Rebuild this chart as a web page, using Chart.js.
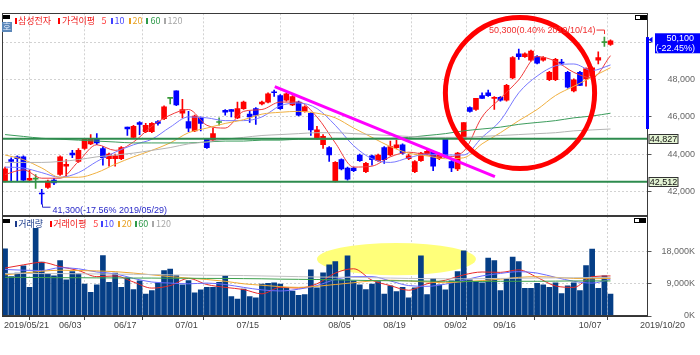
<!DOCTYPE html>
<html lang="ko">
<head>
<meta charset="utf-8">
<title>삼성전자 일봉</title>
<script src="https://cdn.jsdelivr.net/npm/chart.js@4.4.0/dist/chart.umd.min.js"></script>
<style>
  html, body { margin: 0; padding: 0; background: #fff; }
  #wrap { position: relative; width: 700px; height: 355px; overflow: hidden; font-family: "Noto Sans CJK KR", sans-serif; }
  canvas { position: absolute; left: 0; }
  #priceCanvas { top: 0; }
  #volCanvas { top: 215px; }
  .t { position: absolute; font-size: 9px; line-height: 9px; white-space: nowrap; }
  .b { position: absolute; width: 2px; height: 6px; }
  .box { position: absolute; }
</style>
</head>
<body>
<div id="wrap">
  <canvas id="priceCanvas" width="700" height="216"></canvas>
  <canvas id="volCanvas" width="700" height="140"></canvas>

  <!-- price panel legend -->
  <div class="box" style="left:3px;top:15px;width:7px;height:4px;background:#000"></div>
  <div class="t" style="left:2px;top:22px;width:10px;height:10px;line-height:10px;background:#5b87b9;color:#e8f0ff;text-align:center">호</div>
  <span class="b" style="left:14.5px;top:17.5px;background:#ff0000"></span>
  <span class="t" style="left:18px;top:15.5px;color:#f02020">삼성전자</span>
  <span class="b" style="left:57.5px;top:17.5px;background:#ff0000"></span>
  <span class="t" style="left:62px;top:15.5px;color:#f02020">가격이평</span>
  <span class="t" style="left:101.5px;top:15.5px;color:#ff4040">5</span>
  <span class="b" style="left:111px;top:17.5px;background:#4040ff"></span>
  <span class="t" style="left:114.5px;top:15.5px;color:#4848ff">10</span>
  <span class="b" style="left:128.5px;top:17.5px;background:#e8a020"></span>
  <span class="t" style="left:132.5px;top:15.5px;color:#e8a020">20</span>
  <span class="b" style="left:146px;top:17.5px;background:#2e9a4a"></span>
  <span class="t" style="left:150.5px;top:15.5px;color:#2e9a4a">60</span>
  <span class="b" style="left:163.5px;top:17.5px;background:#a8a8a8"></span>
  <span class="t" style="left:167.5px;top:15.5px;color:#a8a8a8">120</span>
  <div class="box" style="left:635px;top:15px;width:4px;height:3px;border:1px solid #000;background:#fff"></div>
  <div class="box" style="left:641px;top:15px;width:6px;height:5px;background:#000"></div>

  <!-- volume panel legend -->
  <div class="box" style="left:3px;top:219px;width:7px;height:3.5px;background:#000"></div>
  <span class="b" style="left:14.5px;top:220.5px;background:#1a3a8a"></span>
  <span class="t" style="left:18.3px;top:218.5px;color:#1a3a8a">거래량</span>
  <span class="b" style="left:49.5px;top:220.5px;background:#ff0000"></span>
  <span class="t" style="left:53.3px;top:218.5px;color:#f02020">거래이평</span>
  <span class="t" style="left:93.3px;top:218.5px;color:#ff4040">5</span>
  <span class="b" style="left:101px;top:220.5px;background:#4040ff"></span>
  <span class="t" style="left:104px;top:218.5px;color:#4848ff">10</span>
  <span class="b" style="left:118.3px;top:220.5px;background:#e8a020"></span>
  <span class="t" style="left:121.7px;top:218.5px;color:#e8a020">20</span>
  <span class="b" style="left:135px;top:220.5px;background:#2e9a4a"></span>
  <span class="t" style="left:138.3px;top:218.5px;color:#2e9a4a">60</span>
  <span class="b" style="left:152.3px;top:220.5px;background:#a8a8a8"></span>
  <span class="t" style="left:156px;top:218.5px;color:#a8a8a8">120</span>
  <div class="box" style="left:634px;top:218px;width:4px;height:3px;border:1px solid #000;background:#fff"></div>
  <div class="box" style="left:640px;top:218px;width:6px;height:5px;background:#000"></div>
</div>

<script>
// 삼성전자 daily candles, 2019/05/21 .. 2019/10/14 (index 0..99)
const opens = [
  42550, 43700, 43850, 43850, 42600, 42650, 41900, 42200, 42600, 42900,
  43350, 44050, 43600, 44300, 44550, 44850, 44300, 43750, 43750, 43750,
  45450, 44900, 45700, 45200, 45200, 45750, 45900, 47000, 47400, 46200,
  45750, 45250, 45950, 44800, 44750, 45700, 46350, 46400, 45950, 46450,
  46150, 46450, 46700, 46800, 47350, 47150, 46900, 46650, 46800, 46300,
  46200, 44850, 44500, 44350, 42550, 43700, 43250, 43250, 43950, 43050,
  43900, 43650, 44350, 43950, 44350, 44500, 43750, 43050, 43650, 44000,
  44150, 43750, 44850, 43600, 43200, 44800, 46500, 46400, 47150, 47300,
  47000, 47050, 46900, 48100, 49400, 49250, 49050, 49250, 49050, 48000,
  48000, 48950, 48400, 47400, 48400, 48050, 48200, 49050, 50000, 49900
];
const highs = [
  43300, 43800, 43900, 43900, 43150, 42900, 42100, 42600, 42700, 43900,
  43700, 44200, 44300, 44850, 45050, 45100, 44400, 44050, 44000, 44400,
  45450, 45550, 45750, 45650, 45700, 45800, 46600, 47000, 47400, 46950,
  46300, 46100, 46000, 44850, 45400, 45950, 46400, 46400, 46800, 46850,
  46300, 46500, 46850, 47300, 47450, 47200, 47300, 47150, 46850, 46600,
  46250, 45500, 45050, 44400, 43600, 43750, 43300, 43300, 44000, 43550,
  43950, 44000, 44400, 44700, 44750, 44550, 44000, 43650, 44100, 44200,
  44200, 44050, 44850, 43650, 44100, 45700, 46550, 47000, 47300, 47450,
  47100, 47100, 47750, 49250, 49650, 49450, 49600, 49300, 49250, 48450,
  49150, 49100, 48450, 48050, 48450, 48650, 48700, 49500, 50300, 50150
];
const lows = [
  42500, 42500, 42550, 42550, 42550, 42150, 41300, 42150, 42350, 42850,
  42800, 43800, 43550, 44250, 44500, 44500, 43400, 43350, 43350, 43700,
  45000, 44850, 45050, 45150, 45150, 45550, 45850, 46700, 46600, 45950,
  45200, 45200, 45250, 44300, 44700, 45550, 46100, 46000, 45900, 46400,
  45700, 45600, 46650, 46750, 47100, 46400, 46850, 46600, 46050, 46250,
  45000, 44800, 44300, 43600, 42500, 43150, 42600, 43050, 43600, 43000,
  43400, 43600, 43500, 43900, 44300, 44000, 43700, 43000, 43600, 43950,
  43100, 43700, 43800, 43050, 43100, 44750, 46250, 46350, 47000, 47100,
  46400, 46850, 46850, 48050, 49100, 49200, 49000, 48850, 49000, 47950,
  47950, 48800, 47550, 47350, 47700, 47650, 48150, 48850, 49800, 49850
];
const closes = [
  43200, 43600, 43750, 42600, 42700, 42650, 41850, 42550, 42450, 43850,
  43450, 43950, 44200, 44800, 44850, 44600, 43800, 44000, 43900, 44350,
  45350, 45500, 45600, 45550, 45650, 45650, 46550, 47000, 46650, 46400,
  45400, 46050, 45650, 44350, 45100, 45700, 46250, 46300, 46450, 46800,
  46000, 46100, 46800, 47250, 47300, 46450, 47250, 47100, 46100, 46550,
  45300, 45300, 44950, 43950, 43550, 43200, 42650, 43100, 43650, 43500,
  43700, 43950, 43700, 44400, 44500, 44050, 43900, 43600, 44050, 44150,
  43350, 44000, 43850, 43250, 44050, 45700, 46300, 47000, 47000, 47150,
  47050, 46900, 47700, 49200, 49250, 49400, 49550, 48900, 49200, 48400,
  49100, 48900, 47600, 48000, 47700, 48600, 48650, 49200, 50000, 50100
];
// 거래량, thousands of shares
const volumes = [
  18800, 11000, 12000, 14000, 8000, 24500, 15100, 11800, 11200, 15500,
  10100, 12400, 11800, 8900, 6600, 8700, 16900, 9400, 12000, 8000,
  10700, 7400, 9800, 6100, 7100, 9300, 12700, 13100, 11300, 8700,
  9900, 6500, 7300, 8000, 8000, 9400, 11200, 5400, 4700, 7500,
  5400, 5100, 8900, 9100, 9300, 8900, 7700, 7000, 5800, 6000,
  12900, 7900, 12100, 14300, 15200, 10100, 16800, 9800, 8700, 7400,
  8900, 9600, 6100, 8400, 6800, 8000, 5100, 7900, 16800, 6000,
  10500, 8700, 7300, 9800, 12400, 18200, 10100, 9600, 9300, 16200,
  15500, 7100, 10400, 16500, 15200, 7700, 7700, 9100, 8700, 8000,
  9300, 6300, 8400, 9300, 7100, 14100, 18700, 7700, 11200, 6100
];

// moving average lines, read every third session
const maIndex = [0, 3, 6, 9, 12, 15, 18, 21, 24, 27, 30, 33, 36, 39, 42, 45, 48,
  51, 54, 57, 60, 63, 66, 69, 72, 75, 78, 81, 84, 87, 90, 93, 96, 99];
const priceMa5 = [42900, 43150, 42700, 42700, 43600, 44500, 44200, 44650, 45500, 46100, 46400, 45550, 45400, 46300, 46400, 46800, 46800,
  46000, 44600, 43300, 43350, 43850, 44100, 43950, 43850, 44150, 46000, 47000, 48000, 49250, 49000, 48400, 48100, 49300];
const priceMa10 = [43300, 43250, 43000, 42750, 43000, 43600, 44100, 44500, 44800, 45450, 46000, 45950, 45800, 45800, 46000, 46600, 46750,
  46450, 45550, 44450, 43750, 43550, 43800, 44000, 43950, 43950, 44900, 45800, 47300, 48200, 48750, 48850, 48500, 48800];
const priceMa20 = [43950, 43700, 43250, 42750, 42750, 43000, 43450, 43850, 44200, 44600, 45150, 45400, 45650, 45850, 46150, 46250, 46300,
  46200, 45950, 45400, 44900, 44400, 44050, 43900, 43750, 43800, 44550, 45150, 45800, 46400, 47150, 47650, 48150, 48650];
const priceMa60 = [45050, 44950, 44850, 44800, 44750, 44700, 44650, 44600, 44600, 44600, 44600, 44650, 44700, 44700, 44750, 44750, 44800,
  44800, 44800, 44800, 44850, 44850, 44900, 45000, 45100, 45250, 45350, 45450, 45600, 45700, 45800, 45950, 46050, 46200];
const priceMa120 = [43550, 43550, 43550, 43600, 43700, 43850, 43950, 44050, 44200, 44350, 44550, 44650, 44800, 44900, 45000, 45050, 45100,
  45150, 45150, 45100, 45050, 45000, 44950, 44900, 44900, 44900, 44950, 45000, 45050, 45100, 45150, 45250, 45300, 45350];
const volMa5 = [13400, 14300, 15000, 13800, 12700, 11000, 11200, 9500, 7800, 8500, 10500, 8800, 8000, 7400, 6200, 8000, 7800,
  9000, 12000, 13200, 10000, 8500, 7200, 9000, 10000, 11500, 12300, 12200, 12900, 10800, 8400, 8000, 11000, 11200];
const volMa10 = [13000, 12800, 12700, 13500, 13200, 12300, 11800, 10500, 9500, 9200, 9000, 9200, 8800, 8000, 7300, 7000, 7500,
  8500, 10200, 11000, 11000, 9800, 8500, 8300, 8900, 10000, 11200, 11900, 12400, 12000, 10800, 9700, 9200, 10300];
const volMa20 = [11500, 12000, 12500, 12800, 12700, 12600, 12400, 12000, 11500, 11000, 10600, 10200, 9700, 9000, 8600, 8200, 8000,
  8300, 8800, 9300, 9800, 10000, 9800, 9500, 9300, 9600, 9900, 10300, 10800, 11000, 10800, 10500, 10400, 10500];
const volMa60 = [10800, 10800, 10750, 10700, 10700, 10650, 10650, 10600, 10600, 10550, 10550, 10500, 10500, 10450, 10400, 10300, 10250,
  10200, 10100, 10000, 9900, 9850, 9800, 9750, 9700, 9650, 9650, 9700, 9700, 9700, 9750, 9800, 9800, 9800];
const volMa120 = [11900, 11900, 11850, 11850, 11800, 11750, 11700, 11650, 11600, 11500, 11450, 11400, 11350, 11300, 11200, 11100, 11000,
  10900, 10850, 10800, 10700, 10600, 10500, 10450, 10400, 10400, 10450, 10500, 10550, 10600, 10650, 10700, 10750, 10800];

// axis ticks
const tickIndex = [0, 9, 18, 28, 38, 53, 62, 72, 80, 94, 104];
const tickLabels = ['2019/05/21', '06/03', '06/17', '07/01', '07/15', '08/05', '08/19', '09/02', '09/16', '10/07', '2019/10/20'];
const priceTicks = [42000, 44000, 46000, 48000, 50000];
const volumeTicks = [0, 9000, 18000];

// drawn-on annotations
const supportLevels = [44827, 42512];
const trendLine = [[44.1, 47630], [80.1, 42780]];
const lastPrice = 50100;
const lastChange = '-22.45%';
const priceRange = [45350, 50300];
const lowMark = { index: 6, price: 41300, text: '41,300(-17.56% 2019/05/29)' };
const highMark = { index: 98, price: 50300, text: '50,300(0.40% 2019/10/14)' };
const focusCircle = { index: 84.2, price: 47290, spanIndex: 12.2, spanPrice: 4070 };
const volumeBlob = { index: 64.0, value: 15900, spanIndex: 13.0, spanValue: 4500 };

const X_MIN = -0.5, X_MAX = 105.05;
const UP = '#ff0000', DOWN = '#0000ff', FLAT = '#3a9a3a';
const AXIS_FONT = { family: '"Liberation Sans", Arial, sans-serif', size: 9 };

const candleColors = opens.map((o, i) => closes[i] > o ? UP : (closes[i] < o ? DOWN : FLAT));

function maLine(values, color, width) {
  return {
    type: 'line',
    data: maIndex.map((ix, k) => ({ x: ix, y: values[k] })),
    borderColor: color,
    borderWidth: width || 1,
    pointRadius: 0,
    cubicInterpolationMode: 'monotone',
    order: 5
  };
}

function xScale(showLabels) {
  return {
    type: 'linear',
    min: X_MIN,
    max: X_MAX,
    offset: false,
    afterBuildTicks: s => { s.ticks = tickIndex.map(v => ({ value: v - 0.5 })); },
    afterFit: s => { s.height = showLabels ? 39 : 0; },
    ticks: {
      display: showLabels,
      autoSkip: false,
      maxRotation: 0,
      align: 'start',
      labelOffset: 2,
      padding: 0,
      color: '#444',
      font: AXIS_FONT,
      callback: (v, i) => tickLabels[i]
    },
    grid: { color: '#d2d2d2', drawTicks: showLabels, tickLength: 4, tickColor: '#444' },
    border: { display: showLabels, color: '#333', dash: [2, 2] }
  };
}

// right-hand value axis; labels sit right-aligned near the canvas edge
function yScale(min, max, ticks, padding, fmt) {
  return {
    position: 'right',
    min: min,
    max: max,
    afterBuildTicks: s => { s.ticks = ticks.map(v => ({ value: v })); },
    afterFit: s => { s.width = 47.5; s.paddingTop = 0; s.paddingBottom = 0; },
    ticks: { color: '#666', font: AXIS_FONT, crossAlign: 'far', padding: padding, callback: fmt },
    grid: { color: '#d2d2d2', tickLength: 4, tickColor: '#555' },
    border: { color: '#333', dash: [2, 2] }
  };
}

function frame(ctx, a) {
  ctx.save();
  ctx.strokeStyle = '#3a3a3a';
  ctx.lineWidth = 1;
  ctx.strokeRect(Math.round(a.left) + 0.5, Math.round(a.top) + 0.5,
    Math.round(a.right - a.left) - 1, Math.round(a.bottom - a.top) - 1);
  ctx.restore();
}

const priceDecor = {
  id: 'priceDecor',
  afterDatasetsDraw(chart) {
    const { ctx, scales: { x, y } } = chart;
    ctx.save();
    // red circle round the rally
    const cx = x.getPixelForValue(focusCircle.index);
    const cy = y.getPixelForValue(focusCircle.price);
    const rx = x.getPixelForValue(focusCircle.index + focusCircle.spanIndex) - cx;
    const ry = cy - y.getPixelForValue(focusCircle.price + focusCircle.spanPrice);
    ctx.strokeStyle = '#ff0000';
    ctx.lineWidth = 5;
    ctx.beginPath();
    ctx.ellipse(cx, cy, rx, ry, 0, 0, Math.PI * 2);
    ctx.stroke();

    ctx.lineWidth = 1;
    ctx.font = '9px "Liberation Sans", Arial, sans-serif';
    ctx.textBaseline = 'middle';
    // lowest point marker
    let px = Math.round(x.getPixelForValue(lowMark.index)) + 0.5;
    let py = y.getPixelForValue(lowMark.price);
    ctx.strokeStyle = '#2828c8';
    ctx.beginPath();
    ctx.moveTo(px, py);
    ctx.lineTo(px, py + 3);
    ctx.lineTo(px + 8, py + 3);
    ctx.stroke();
    ctx.fillStyle = '#2828c8';
    ctx.textAlign = 'left';
    ctx.fillText(lowMark.text, px + 10, py + 6);
    // highest point marker
    px = Math.round(x.getPixelForValue(highMark.index)) + 0.5;
    py = y.getPixelForValue(highMark.price);
    ctx.strokeStyle = '#f03030';
    ctx.beginPath();
    ctx.moveTo(px, py - 3);
    ctx.lineTo(px, py - 7);
    ctx.lineTo(px - 8, py - 7);
    ctx.stroke();
    ctx.fillStyle = '#f03030';
    ctx.textAlign = 'right';
    ctx.fillText(highMark.text, px - 9, py - 7);
    ctx.restore();
  },
  afterDraw(chart) {
    const { ctx, chartArea: a, scales: { y } } = chart;
    frame(ctx, a);
    ctx.save();
    // price band on the axis
    ctx.strokeStyle = '#0000ff';
    ctx.lineWidth = 3;
    ctx.beginPath();
    ctx.moveTo(a.right, y.getPixelForValue(priceRange[1]));
    ctx.lineTo(a.right, y.getPixelForValue(priceRange[0]));
    ctx.stroke();
    // current price box
    const py = y.getPixelForValue(lastPrice);
    ctx.fillStyle = '#0000ff';
    ctx.beginPath();
    ctx.moveTo(a.right + 1, py - 1);
    ctx.lineTo(a.right + 5, py - 4);
    ctx.lineTo(a.right + 5, py + 2);
    ctx.closePath();
    ctx.fill();
    ctx.fillRect(a.right + 7.5, py - 7.5, 700 - a.right - 7.5, 20);
    ctx.fillStyle = '#ffffff';
    ctx.font = '9px "Liberation Sans", Arial, sans-serif';
    ctx.textAlign = 'right';
    ctx.textBaseline = 'middle';
    ctx.fillText(lastPrice.toLocaleString('en-US'), 694, py - 2);
    ctx.fillText('(' + lastChange + ')', 695, py + 8);
    // support level boxes
    supportLevels.forEach(level => {
      const ly = Math.round(y.getPixelForValue(level));
      ctx.fillStyle = '#e4f4d4';
      ctx.fillRect(a.right + 1.5, ly - 4.5, 29, 9);
      ctx.strokeStyle = '#333';
      ctx.lineWidth = 1;
      ctx.strokeRect(a.right + 1.5, ly - 4.5, 29, 9);
      ctx.fillStyle = '#111';
      ctx.textAlign = 'center';
      ctx.fillText(level.toLocaleString('en-US'), a.right + 16, ly + 0.5);
    });
    ctx.restore();
  }
};

const volumeDecor = {
  id: 'volumeDecor',
  beforeDatasetsDraw(chart) {
    const { ctx, chartArea: a, scales: { x, y } } = chart;
    const cx = x.getPixelForValue(volumeBlob.index);
    const cy = y.getPixelForValue(volumeBlob.value);
    const rx = x.getPixelForValue(volumeBlob.index + volumeBlob.spanIndex) - cx;
    const ry = cy - y.getPixelForValue(volumeBlob.value + volumeBlob.spanValue);
    ctx.save();
    ctx.beginPath();
    ctx.rect(a.left, a.top, a.right - a.left, a.bottom - a.top);
    ctx.clip();
    ctx.fillStyle = '#ffff7a';
    ctx.beginPath();
    ctx.ellipse(cx, cy, rx, ry, 0, 0, Math.PI * 2);
    ctx.fill();
    ctx.restore();
  },
  afterDraw(chart) {
    frame(chart.ctx, chart.chartArea);
  }
};

new Chart(document.getElementById('priceCanvas'), {
  type: 'bar',
  data: {
    datasets: [
      {
        data: opens.map((o, i) => ({ x: i, y: [lows[i], highs[i]] })),
        backgroundColor: candleColors,
        barThickness: 1,
        grouped: false,
        order: 11
      },
      {
        data: opens.map((o, i) => ({ x: i, y: [o, closes[i]] })),
        backgroundColor: candleColors,
        barThickness: 5,
        minBarLength: 1,
        grouped: false,
        order: 10
      },
      maLine(priceMa120, '#b4b4b4'),
      maLine(priceMa60, '#3c9c5c'),
      maLine(priceMa20, '#f0b040'),
      maLine(priceMa10, '#7878ff'),
      maLine(priceMa5, '#f03c3c'),
      ...supportLevels.map(level => ({
        type: 'line',
        data: [{ x: X_MIN, y: level }, { x: X_MAX, y: level }],
        borderColor: '#2e8b4e',
        borderWidth: 2,
        pointRadius: 0,
        order: 3
      })),
      {
        type: 'line',
        data: trendLine.map(p => ({ x: p[0], y: p[1] })),
        borderColor: '#ff00ff',
        borderWidth: 3,
        pointRadius: 0,
        order: 1
      }
    ]
  },
  options: {
    responsive: false,
    animation: false,
    events: [],
    layout: { padding: { left: 2, right: 5, top: 13.3, bottom: 0 } },
    plugins: { legend: { display: false }, tooltip: { enabled: false } },
    scales: {
      x: xScale(false),
      y: yScale(40665, 51580, priceTicks, 16, v => v.toLocaleString('en-US'))
    }
  },
  plugins: [priceDecor]
});

new Chart(document.getElementById('volCanvas'), {
  type: 'bar',
  data: {
    datasets: [
      {
        data: volumes.map((v, i) => ({ x: i, y: v })),
        backgroundColor: '#053e86',
        barThickness: 5,
        grouped: false,
        order: 10
      },
      maLine(volMa120, '#c0c0c0'),
      maLine(volMa60, '#3ca04c'),
      maLine(volMa20, '#f0a830'),
      maLine(volMa10, '#6a6aff'),
      maLine(volMa5, '#e82828')
    ]
  },
  options: {
    responsive: false,
    animation: false,
    events: [],
    layout: { padding: { left: 2, right: 5, top: 1, bottom: 0 } },
    plugins: { legend: { display: false }, tooltip: { enabled: false } },
    scales: {
      x: xScale(true),
      y: yScale(0, 27950, volumeTicks, 10, v => v.toLocaleString('en-US') + 'K')
    }
  },
  plugins: [volumeDecor]
});
</script>
</body>
</html>
